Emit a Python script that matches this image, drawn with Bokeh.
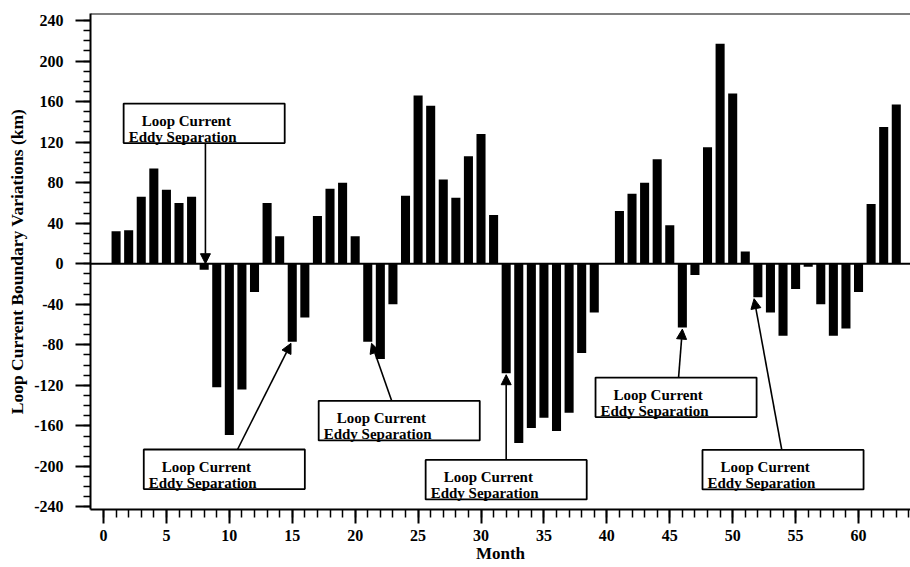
from bokeh.plotting import figure
from bokeh.models import (FixedTicker, Range1d, Span, BoxAnnotation, Label,
                          Arrow, NormalHead, ColumnDataSource)
from bokeh.embed import file_html
from bokeh.resources import INLINE

# ---- data ----
months = list(range(1, 64))
variation_km = [32, 33, 66, 94, 73, 60, 66, -6, -122, -169,
                -124, -28, 60, 27, -77, -53, 47, 74, 80, 27,
                -77, -94, -40, 67, 166, 156, 83, 65, 106, 128,
                48, -108, -177, -162, -152, -165, -147, -88, -48, 0,
                52, 69, 80, 103, 38, -63, -11, 115, 217, 168,
                12, -33, -48, -71, -25, -3, -40, -71, -64, -28,
                59, 135, 157]
x_ticks = list(range(0, 61, 5))
x_minor = list(range(0, 65))
y_ticks = list(range(-240, 241, 40))
y_minor = list(range(-240, 241, 10))
x_title = "Month"
y_title = "Loop Current Boundary Variations (km)"

# eddy separation events (month of arrow tip) and annotation layout
event_month = [8, 15, 21, 32, 46, 52]
tip_x = [8.1, 14.9, 21.3, 32.0, 46.0, 51.7]
tail_x = [8.1, 10.65, 22.9, 32.0, 45.7, 53.9]
box_left = [1.6, 3.2, 17.1, 25.6, 39.1, 47.6]
box_top = [158, -183.3, -135.3, -193.6, -112.3, -183.7]
box_w = 12.8
box_h = 39
note_line1 = "Loop Current"
note_line2 = "Eddy Separation"

FONT = "Liberation Serif"
X0, X1 = -1.033, 64.13
Y0, Y1 = -242.5, 246.9

p = figure(width=910, height=567, output_backend="svg", toolbar_location=None,
           x_range=Range1d(X0, X1), y_range=Range1d(Y0, Y1),
           min_border_left=90, min_border_right=0, min_border_top=13,
           min_border_bottom=58)
p.outline_line_color = None
p.grid.visible = False

p.vbar(x=months, top=variation_km, width=0.72, fill_color="black",
       line_color=None)

p.add_layout(Span(location=0, dimension="width", line_color="black",
                  line_width=2))
p.add_layout(Span(location=Y1, dimension="width",
                  line_color="black", line_width=2))

# axes
for ax in (p.xaxis[0], p.yaxis[0]):
    ax.axis_line_width = 2
    ax.major_tick_line_width = 2
    ax.minor_tick_line_width = 1.5
    ax.major_tick_in = 0
    ax.minor_tick_in = 0
    ax.major_label_text_font = FONT
    ax.major_label_text_font_style = "bold"
    ax.major_label_text_font_size = "16px"
    ax.major_label_text_color = "black"
    ax.axis_label_text_font = FONT
    ax.axis_label_text_font_style = "bold"
    ax.axis_label_text_color = "black"

p.xaxis.ticker = FixedTicker(ticks=x_ticks, minor_ticks=x_minor)
p.yaxis.ticker = FixedTicker(ticks=y_ticks, minor_ticks=y_minor)
p.yaxis.major_label_overrides = {v: str(v) for v in y_ticks}
p.xaxis.major_label_overrides = {v: str(v) for v in x_ticks}
p.xaxis.major_tick_out = 14
p.xaxis.minor_tick_out = 8
p.yaxis.major_tick_out = 15
p.yaxis.minor_tick_out = 7
p.xaxis.major_label_standoff = 6
p.yaxis.major_label_standoff = 12
p.xaxis.axis_label = x_title
p.xaxis.axis_label_text_font_size = "17px"
p.xaxis.axis_label_standoff = 0
p.yaxis.axis_label = y_title
p.yaxis.axis_label_text_font_size = "17.5px"
p.yaxis.axis_label_standoff = 4

# annotations
val = dict(zip(months, variation_km))
xs0, ys0, xs1, ys1 = [], [], [], []
for m, tx, ax_, bl, bt in zip(event_month, tip_x, tail_x, box_left, box_top):
    bb = bt - box_h
    if bt > 0:
        tail_y = bb
        tip_y = max(val[m], 0)
    else:
        tail_y = bt
        tip_y = val[m] - 1.5
    xs0.append(ax_); ys0.append(tail_y); xs1.append(tx); ys1.append(tip_y)
    p.add_layout(BoxAnnotation(left=bl, right=bl + box_w, top=bt, bottom=bb,
                               fill_color="white", fill_alpha=1.0,
                               line_color="black", line_width=1.8,
                               line_alpha=1.0))
    p.add_layout(Label(x=bl, y=bt, x_offset=18, y_offset=-17,
                       text=note_line1, text_baseline="alphabetic",
                       text_font=FONT, text_font_style="bold",
                       text_font_size="15px", text_color="black"))
    p.add_layout(Label(x=bl, y=bt, x_offset=5, y_offset=-33,
                       text=note_line2, text_baseline="alphabetic",
                       text_font=FONT, text_font_style="bold",
                       text_font_size="15px", text_color="black"))

arrow_src = ColumnDataSource(dict(x0=xs0, y0=ys0, x1=xs1, y1=ys1))
p.add_layout(Arrow(x_start="x0", y_start="y0", x_end="x1", y_end="y1",
                   source=arrow_src, line_width=1.6, line_color="black",
                   end=NormalHead(size=10, fill_color="black",
                                  line_color="black", line_width=1)))

open("out.html", "w").write(file_html(p, INLINE))
